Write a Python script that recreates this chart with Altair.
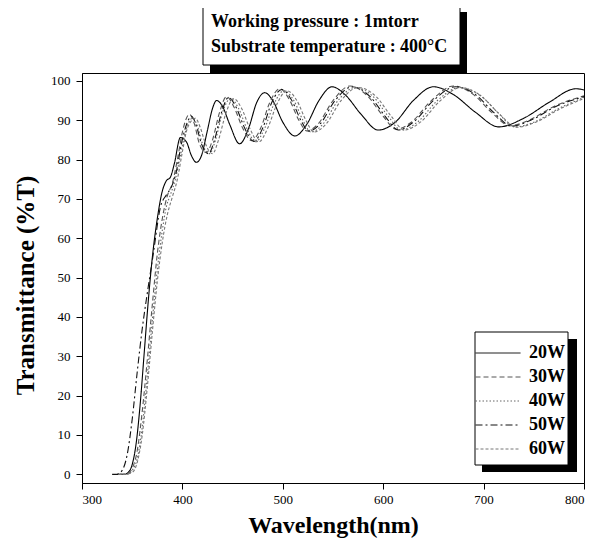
import altair as alt
import pandas as pd

series_names = ["20W", "30W", "40W", "50W", "60W"]

wl_20W = [335, 342, 346, 350, 354, 358, 362, 366, 370, 375, 380, 384, 388, 392, 398, 404, 409, 414, 419, 425,
          430, 434, 440, 447, 457, 466, 474, 482, 490, 500, 512, 524, 536, 549, 562, 578, 595, 612, 630, 650,
          670, 692, 715, 740, 765, 792, 800]
t_20W = [0, 0, 0.5, 2.5, 8, 18, 31, 44, 55, 65, 72, 74.6, 75.5, 79, 85.6, 84.5, 81, 79.3, 81, 87.5,
         93, 95, 93.5, 89, 84, 88, 94.5, 97, 95, 89.5, 86, 89, 95, 98.5, 96.5, 91.5, 87.5, 89.5, 95, 98.5,
         96.5, 92, 88.3, 90.5, 94.5, 98, 97.7]

wl_30W = [338, 342, 346, 350, 355, 360, 365, 370, 375, 380, 385, 390, 395, 400, 407, 412, 417, 424, 430, 437,
          444, 452, 460, 469, 478, 487, 497, 507, 516, 524, 535, 550, 567, 585, 600, 613, 628, 648, 670, 690,
          708, 726, 745, 770, 800]
t_30W = [0, 0, 0.3, 1.5, 6, 16, 29, 43, 56, 65, 70.8, 74, 80, 87, 91.5, 89, 84, 81.8, 85, 92,
         96, 93, 88, 84.8, 88, 94.5, 98, 95, 90, 87.3, 89, 95, 98.7, 96, 91, 87.7, 89.5, 95, 98.7, 96.5,
         92, 88.6, 90, 93.5, 96.2]

wl_40W = [338, 345, 350, 355, 360, 365, 370, 375, 380, 384, 388, 393, 398, 403, 410, 415, 420, 427, 433, 440,
          448, 456, 464, 473, 482, 491, 501, 511, 520, 528, 540, 555, 572, 590, 605, 618, 634, 654, 676, 696,
          714, 731, 750, 775, 800]
t_40W = [0, 0, 1, 4, 12, 25, 39, 52, 62, 68, 71, 75, 81, 87, 90.5, 88.5, 84, 81.5, 85, 92,
         95.5, 93, 88, 84.5, 88, 94, 97.5, 95, 90, 87, 89, 95, 98.3, 96, 91, 87.5, 89.5, 95, 98.3, 96.5,
         92, 88.3, 89.5, 93, 95.8]

wl_50W = [330, 335, 340, 345, 350, 355, 360, 365, 371, 378, 384, 389, 394, 399, 405, 409, 414, 419, 426, 432,
          439, 446, 454, 462, 471, 480, 489, 499, 509, 518, 526, 537, 552, 569, 587, 602, 615, 630, 650, 672,
          692, 710, 728, 747, 772, 800]
t_50W = [0, 0, 1, 5, 14, 26, 37, 46, 56, 67.8, 71, 73, 77, 84, 89.5, 91, 88.5, 84, 81.5, 85,
         92, 95.8, 93, 88, 84.6, 88, 94.5, 97.8, 95, 90, 87.2, 89, 95, 98.5, 96, 91, 87.5, 89.5, 95, 98.5,
         96.5, 92, 88.5, 90, 93.5, 96]

wl_60W = [336, 342, 350, 355, 360, 365, 370, 375, 380, 385, 390, 395, 400, 405, 413, 418, 423, 430, 436, 443,
          451, 459, 467, 476, 485, 494, 504, 514, 523, 531, 543, 558, 575, 593, 608, 621, 637, 657, 677, 698,
          716, 733, 752, 777, 800]
t_60W = [0, 0, 0.5, 3, 10, 22, 36, 49, 59, 66, 70.5, 75, 82, 88, 90.5, 88, 84, 81.5, 85, 91.5,
         95.5, 93, 88, 84.5, 88, 94, 97.5, 95, 90, 87, 89, 95, 98.3, 96, 91, 87.5, 89.5, 95, 98.3, 96,
         91.5, 88.2, 89.5, 93, 95.5]

x_ticks = [300, 400, 500, 600, 700, 800]
y_ticks = [0, 10, 20, 30, 40, 50, 60, 70, 80, 90, 100]

title_lines = ["Working pressure : 1mtorr", "Substrate temperature : 400\u00b0C"]

series_data = [(series_names[0], wl_20W, t_20W), (series_names[1], wl_30W, t_30W),
               (series_names[2], wl_40W, t_40W), (series_names[3], wl_50W, t_50W),
               (series_names[4], wl_60W, t_60W)]
df = pd.concat([pd.DataFrame({"wavelength": w, "T": t, "series": n}) for n, w, t in series_data],
               ignore_index=True)

SERIF = "Liberation Serif"
W, H = 502, 410

x_scale = alt.Scale(domain=[300, 800], nice=False, zero=False)
y_scale = alt.Scale(domain=[-2.2, 102], nice=False, zero=False)

dash_range = [[1, 0], [5, 3], [1.5, 2], [7, 3, 2, 3], [3, 2]]
color_range = ["#000000", "#555555", "#666666", "#111111", "#777777"]

legend_props = dict(
    title=None, orient="none", legendX=393, legendY=268, padding=0,
    symbolType="stroke", symbolSize=2025, symbolStrokeWidth=1.0, clipHeight=24,
    labelFont=SERIF, labelFontWeight="bold", labelFontSize=18, labelColor="black",
    labelOffset=8, rowPadding=0,
)

lines = alt.Chart(df).mark_line(interpolate="monotone", strokeWidth=1.1).encode(
    x=alt.X("wavelength:Q", scale=x_scale,
            axis=alt.Axis(values=x_ticks, title="Wavelength(nm)", titleX=251, titleY=49,
                          titleBaseline="alphabetic", titleAlign="center", titleFontSize=24)),
    y=alt.Y("T:Q", scale=y_scale,
            axis=alt.Axis(values=y_ticks, title="Transmittance (%T)", titleX=-49, titleY=212,
                          titleAngle=270, titleBaseline="alphabetic", titleAlign="center",
                          titleFontSize=25)),
    color=alt.Color("series:N", scale=alt.Scale(domain=series_names, range=color_range),
                    legend=alt.Legend(**legend_props)),
    strokeDash=alt.StrokeDash("series:N", scale=alt.Scale(domain=series_names, range=dash_range),
                              legend=alt.Legend(**legend_props)),
    order=alt.Order("wavelength:Q"),
)

one = pd.DataFrame({"k": [0]})

# legend box with shadow
leg_shadow = alt.Chart(one).mark_rect(color="black").encode(
    x=alt.value(400), x2=alt.value(495), y=alt.value(266), y2=alt.value(399))
leg_box = alt.Chart(one).mark_rect(fill="white", stroke="black", strokeWidth=1).encode(
    x=alt.value(393), x2=alt.value(486), y=alt.value(259), y2=alt.value(392))

# title box with shadow
tb_shadow = alt.Chart(one).mark_rect(color="black").encode(
    x=alt.value(128), x2=alt.value(385), y=alt.value(-61), y2=alt.value(0))
tb_box = alt.Chart(one).mark_rect(fill="white", stroke="black", strokeWidth=1).encode(
    x=alt.value(121), x2=alt.value(378), y=alt.value(-68), y2=alt.value(-8))
t1 = alt.Chart(one).mark_text(text=title_lines[0], font=SERIF, fontWeight="bold", fontSize=18,
                              align="left", baseline="alphabetic", color="black").encode(
    x=alt.value(129), y=alt.value(-46))
t2 = alt.Chart(one).mark_text(text=title_lines[1], font=SERIF, fontWeight="bold", fontSize=18,
                              align="left", baseline="alphabetic", color="black").encode(
    x=alt.value(129), y=alt.value(-21))

chart = alt.layer(tb_shadow, tb_box, t1, t2, leg_shadow, leg_box, lines).properties(
    width=W, height=H,
    autosize=alt.AutoSizeParams(type="none"),
    padding={"left": 74, "top": 65, "right": 10, "bottom": 60},
).configure_view(
    stroke="black", strokeWidth=1,
).configure_axis(
    grid=False, domain=True, domainColor="black", tickColor="black", tickSize=6,
    labelFont=SERIF, labelFontSize=13, labelColor="black", labelPadding=4,
    titleFont=SERIF, titleFontWeight="bold", titleFontSize=23, titleColor="black",
).configure_axisY(labelPadding=6)

chart.save("out.html", embed_options={"renderer": "svg", "actions": False})
